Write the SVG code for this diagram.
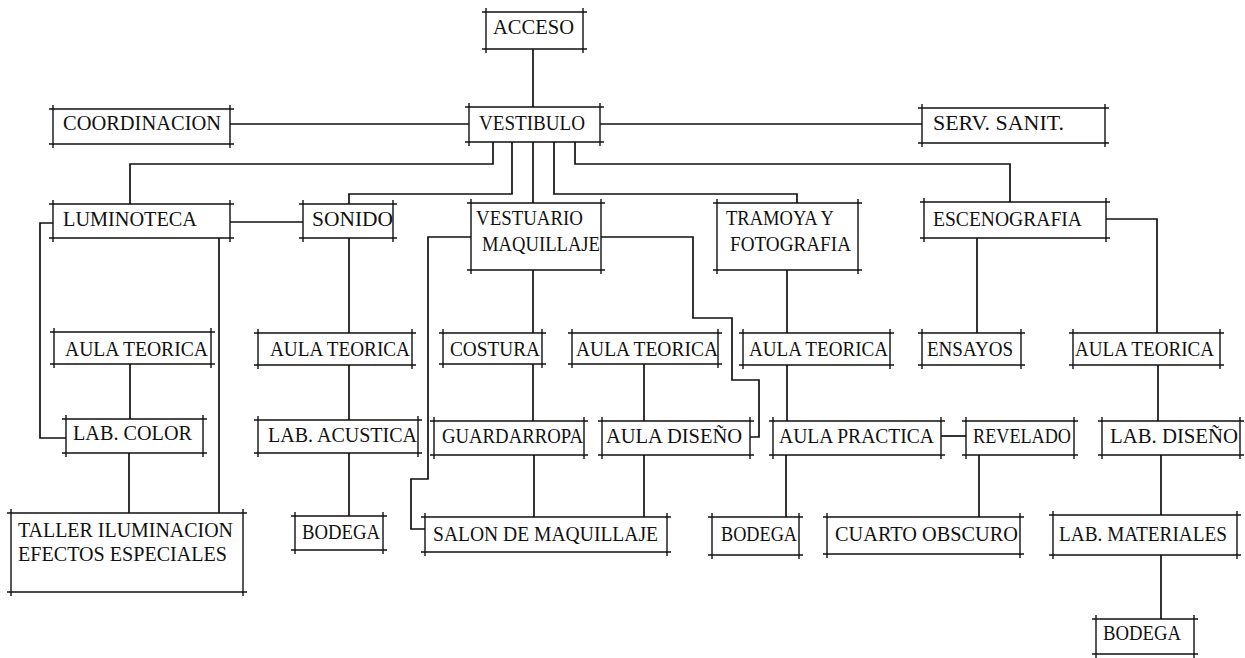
<svg xmlns="http://www.w3.org/2000/svg" width="1245" height="658" viewBox="0 0 1245 658">
<style>
.bg{fill:#fff}
.box{fill:none;stroke:#111;stroke-width:1.4}
.conn{fill:none;stroke:#111;stroke-width:1.7}
.lbl{font-family:"Liberation Serif","DejaVu Serif",serif;font-size:20px;fill:#111}
</style>
<rect class="bg" x="0" y="0" width="1245" height="658"/>
<g id="connectors">
<path class="conn" d="M533 49 V107"/>
<path class="conn" d="M230 124 H469"/>
<path class="conn" d="M600 124 H922"/>
<path class="conn" d="M493 142 V164 H130 V204"/>
<path class="conn" d="M512 142 V194 H349 V204"/>
<path class="conn" d="M533 142 V203"/>
<path class="conn" d="M554 142 V194 H797 V203"/>
<path class="conn" d="M575 142 V164 H1010 V202"/>
<path class="conn" d="M230 222 H303"/>
<path class="conn" d="M53 223 H40 V438 H66"/>
<path class="conn" d="M219 238 V513"/>
<path class="conn" d="M130 364 V419"/>
<path class="conn" d="M129 453 V513"/>
<path class="conn" d="M349 238 V333"/>
<path class="conn" d="M349 365 V420"/>
<path class="conn" d="M349 453 V516"/>
<path class="conn" d="M533 270 V333"/>
<path class="conn" d="M533 364 V421"/>
<path class="conn" d="M534 455 V517"/>
<path class="conn" d="M471 237 H428 V479 H411 V529 H425"/>
<path class="conn" d="M601 237 H693 V318 H732 V380 H759 V437 H750"/>
<path class="conn" d="M644 364 V421"/>
<path class="conn" d="M644 455 V517"/>
<path class="conn" d="M787 270 V333"/>
<path class="conn" d="M787 365 V421"/>
<path class="conn" d="M786 455 V517"/>
<path class="conn" d="M941 436 H966"/>
<path class="conn" d="M979 455 V517"/>
<path class="conn" d="M977 238 V333"/>
<path class="conn" d="M1106 219 H1157 V333"/>
<path class="conn" d="M1158 365 V421"/>
<path class="conn" d="M1161 455 V515"/>
<path class="conn" d="M1161 555 V619"/>
</g>
<g id="acceso"><path class="box" d="M482 12 H587 M482 49 H587 M486 8 V53 M583 8 V53"/><text class="lbl" x="493" y="34" textLength="81" lengthAdjust="spacingAndGlyphs">ACCESO</text></g>
<g id="coordinacion"><path class="box" d="M49 109 H234 M49 144 H234 M53 105 V148 M230 105 V148"/><text class="lbl" x="63" y="130" textLength="158" lengthAdjust="spacingAndGlyphs">COORDINACION</text></g>
<g id="vestibulo"><path class="box" d="M465 107 H604 M465 142 H604 M469 103 V146 M600 103 V146"/><text class="lbl" x="479" y="130" textLength="106" lengthAdjust="spacingAndGlyphs">VESTIBULO</text></g>
<g id="serv-sanit"><path class="box" d="M918 108 H1109 M918 143 H1109 M922 104 V147 M1105 104 V147"/><text class="lbl" x="933" y="130" textLength="131" lengthAdjust="spacingAndGlyphs">SERV. SANIT.</text></g>
<g id="luminoteca"><path class="box" d="M49 204 H234 M49 238 H234 M53 200 V242 M230 200 V242"/><text class="lbl" x="63" y="226" textLength="134" lengthAdjust="spacingAndGlyphs">LUMINOTECA</text></g>
<g id="sonido"><path class="box" d="M299 204 H397 M299 238 H397 M303 200 V242 M393 200 V242"/><text class="lbl" x="312" y="226" textLength="81" lengthAdjust="spacingAndGlyphs">SONIDO</text></g>
<g id="vestuario"><path class="box" d="M467 203 H605 M467 270 H605 M471 199 V274 M601 199 V274"/><text class="lbl" x="476" y="225" textLength="107" lengthAdjust="spacingAndGlyphs">VESTUARIO</text><text class="lbl" x="482" y="251" textLength="118" lengthAdjust="spacingAndGlyphs">MAQUILLAJE</text></g>
<g id="tramoya"><path class="box" d="M713 203 H862 M713 270 H862 M717 199 V274 M858 199 V274"/><text class="lbl" x="726" y="225" textLength="108" lengthAdjust="spacingAndGlyphs">TRAMOYA Y</text><text class="lbl" x="730" y="251" textLength="121" lengthAdjust="spacingAndGlyphs">FOTOGRAFIA</text></g>
<g id="escenografia"><path class="box" d="M920 202 H1110 M920 238 H1110 M924 198 V242 M1106 198 V242"/><text class="lbl" x="933" y="226" textLength="149" lengthAdjust="spacingAndGlyphs">ESCENOGRAFIA</text></g>
<g id="aula-teorica-1"><path class="box" d="M50 332 H215 M50 364 H215 M54 328 V368 M211 328 V368"/><text class="lbl" x="65" y="356" textLength="143" lengthAdjust="spacingAndGlyphs">AULA TEORICA</text></g>
<g id="aula-teorica-2"><path class="box" d="M254 333 H416 M254 365 H416 M258 329 V369 M412 329 V369"/><text class="lbl" x="270" y="356" textLength="140" lengthAdjust="spacingAndGlyphs">AULA TEORICA</text></g>
<g id="costura"><path class="box" d="M439 333 H546 M439 364 H546 M443 329 V368 M542 329 V368"/><text class="lbl" x="450" y="356" textLength="90" lengthAdjust="spacingAndGlyphs">COSTURA</text></g>
<g id="aula-teorica-3"><path class="box" d="M568 333 H722 M568 364 H722 M572 329 V368 M718 329 V368"/><text class="lbl" x="576" y="356" textLength="142" lengthAdjust="spacingAndGlyphs">AULA TEORICA</text></g>
<g id="aula-teorica-4"><path class="box" d="M739 333 H894 M739 365 H894 M743 329 V369 M890 329 V369"/><text class="lbl" x="749" y="356" textLength="139" lengthAdjust="spacingAndGlyphs">AULA TEORICA</text></g>
<g id="ensayos"><path class="box" d="M918 333 H1025 M918 365 H1025 M922 329 V369 M1021 329 V369"/><text class="lbl" x="927" y="356" textLength="86" lengthAdjust="spacingAndGlyphs">ENSAYOS</text></g>
<g id="aula-teorica-5"><path class="box" d="M1069 333 H1224 M1069 365 H1224 M1073 329 V369 M1220 329 V369"/><text class="lbl" x="1075" y="356" textLength="139" lengthAdjust="spacingAndGlyphs">AULA TEORICA</text></g>
<g id="lab-color"><path class="box" d="M62 419 H207 M62 453 H207 M66 415 V457 M203 415 V457"/><text class="lbl" x="73" y="440" textLength="119" lengthAdjust="spacingAndGlyphs">LAB. COLOR</text></g>
<g id="lab-acustica"><path class="box" d="M254 420 H422 M254 453 H422 M258 416 V457 M418 416 V457"/><text class="lbl" x="268" y="442" textLength="149" lengthAdjust="spacingAndGlyphs">LAB. ACUSTICA</text></g>
<g id="guardarropa"><path class="box" d="M430 421 H588 M430 455 H588 M434 417 V459 M584 417 V459"/><text class="lbl" x="442" y="443" textLength="141" lengthAdjust="spacingAndGlyphs">GUARDARROPA</text></g>
<g id="aula-diseno"><path class="box" d="M598 421 H754 M598 455 H754 M602 417 V459 M750 417 V459"/><text class="lbl" x="606" y="443" textLength="136" lengthAdjust="spacingAndGlyphs">AULA DISEÑO</text></g>
<g id="aula-practica"><path class="box" d="M769 421 H945 M769 455 H945 M773 417 V459 M941 417 V459"/><text class="lbl" x="779" y="443" textLength="155" lengthAdjust="spacingAndGlyphs">AULA PRACTICA</text></g>
<g id="revelado"><path class="box" d="M962 421 H1078 M962 455 H1078 M966 417 V459 M1074 417 V459"/><text class="lbl" x="973" y="443" textLength="98" lengthAdjust="spacingAndGlyphs">REVELADO</text></g>
<g id="lab-diseno"><path class="box" d="M1098 421 H1244 M1098 455 H1244 M1102 417 V459 M1240 417 V459"/><text class="lbl" x="1110" y="443" textLength="128" lengthAdjust="spacingAndGlyphs">LAB. DISEÑO</text></g>
<g id="taller"><path class="box" d="M7 513 H247 M7 592 H247 M11 509 V596 M243 509 V596"/><text class="lbl" x="18" y="537" textLength="215" lengthAdjust="spacingAndGlyphs">TALLER ILUMINACION</text><text class="lbl" x="18" y="561" textLength="209" lengthAdjust="spacingAndGlyphs">EFECTOS ESPECIALES</text></g>
<g id="bodega-1"><path class="box" d="M291 516 H387 M291 550 H387 M295 512 V554 M383 512 V554"/><text class="lbl" x="302" y="539" textLength="78" lengthAdjust="spacingAndGlyphs">BODEGA</text></g>
<g id="salon"><path class="box" d="M421 517 H671 M421 552 H671 M425 513 V556 M667 513 V556"/><text class="lbl" x="433" y="541" textLength="225" lengthAdjust="spacingAndGlyphs">SALON DE MAQUILLAJE</text></g>
<g id="bodega-2"><path class="box" d="M708 517 H803 M708 555 H803 M712 513 V559 M799 513 V559"/><text class="lbl" x="721" y="541" textLength="76" lengthAdjust="spacingAndGlyphs">BODEGA</text></g>
<g id="cuarto-obscuro"><path class="box" d="M823 517 H1024 M823 554 H1024 M827 513 V558 M1020 513 V558"/><text class="lbl" x="835" y="541" textLength="183" lengthAdjust="spacingAndGlyphs">CUARTO OBSCURO</text></g>
<g id="lab-materiales"><path class="box" d="M1049 515 H1241 M1049 555 H1241 M1053 511 V559 M1237 511 V559"/><text class="lbl" x="1059" y="541" textLength="168" lengthAdjust="spacingAndGlyphs">LAB. MATERIALES</text></g>
<g id="bodega-3"><path class="box" d="M1092 619 H1198 M1092 654 H1198 M1096 615 V658 M1194 615 V658"/><text class="lbl" x="1103" y="640" textLength="78" lengthAdjust="spacingAndGlyphs">BODEGA</text></g>
</svg>
